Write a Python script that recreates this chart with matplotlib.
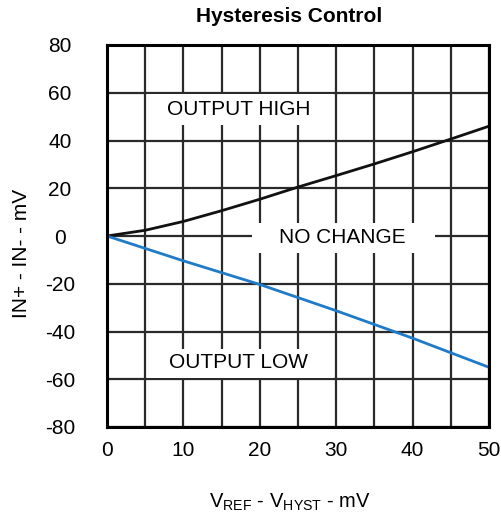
import matplotlib
matplotlib.use("Agg")
from matplotlib import pyplot as plt
from matplotlib.patches import Rectangle
import numpy as np

plt.rcParams['font.family'] = ['Liberation Sans', 'DejaVu Sans']
plt.rcParams['mathtext.fontset'] = 'custom'
plt.rcParams['mathtext.rm'] = 'Liberation Sans'
plt.rcParams['axes.unicode_minus'] = False

# data
x_high = [0, 5, 10, 15, 20, 25, 30, 35, 40, 45, 50]
y_high = [0, 2.4, 6.1, 10.6, 15.4, 20.5, 25.3, 30.2, 35.3, 40.6, 46.0]
x_low = [0, 10, 20, 30, 40, 50]
y_low = [0, -10.4, -20.3, -31.3, -42.8, -55.0]

x_ticks = [0, 10, 20, 30, 40, 50]
y_ticks = [-80, -60, -40, -20, 0, 20, 40, 60, 80]
x_grid = np.arange(0, 51, 5)

# region labels: text, centre x, centre y, box (x0, x1, y0, y1)
labels = ['OUTPUT HIGH', 'NO CHANGE', 'OUTPUT LOW']
label_x = [17.3, 30.8, 17.2]
label_y = [53, -0.8, -53]
label_box = [(5.2, 29.6, 46.7, 59.4), (19.0, 42.9, -7.2, 5.5), (5.2, 29.6, -59.4, -47.2)]

fig = plt.figure(figsize=(5.01, 5.23), dpi=100)
ax = fig.add_axes([107 / 501, 1 - 427 / 523, 382 / 501, 382 / 523])

# grid
for xv in x_grid:
    ax.axvline(xv, color='#2a2a2a', lw=1.6, zorder=1)
for yv in y_ticks:
    ax.axhline(yv, color='#2a2a2a', lw=1.6, zorder=1)

for txt, tx, ty, (x0, x1, y0, y1) in zip(labels, label_x, label_y, label_box):
    ax.add_patch(Rectangle((x0, y0), x1 - x0, y1 - y0, facecolor='white', edgecolor='none', zorder=2))
    ax.text(tx, ty, txt, fontsize=15, ha='center', va='center', zorder=3)

ax.plot(x_high, y_high, color='#111111', lw=2.0, zorder=4)
ax.plot(x_low, y_low, color='#1f7ac8', lw=2.0, zorder=4)

ax.set_xlim(0, 50)
ax.set_ylim(-80, 80)
ax.set_xticks(x_ticks)
ax.set_yticks(y_ticks)
ax.tick_params(length=0, labelsize=15)
ax.tick_params(axis='x', pad=10)
ax.tick_params(axis='y', pad=34)
for lab in ax.get_yticklabels():
    lab.set_horizontalalignment('center')
for s in ax.spines.values():
    s.set_linewidth(2.2)
    s.set_color('black')
    s.set_zorder(5)

fig.text(289 / 501, 1 - 17 / 523, 'Hysteresis Control', fontsize=15, fontweight='bold', ha='center', va='center')
fig.text(22 / 501, 1 - 253 / 523, 'IN+ - IN- - mV', fontsize=15, rotation=90, ha='center', va='center')
fig.text(290 / 501, 1 - 502 / 523, r'V$_{\mathrm{REF}}$ - V$_{\mathrm{HYST}}$ - mV', fontsize=14.5, ha='center', va='center')

fig.savefig('out.png', dpi=100)
